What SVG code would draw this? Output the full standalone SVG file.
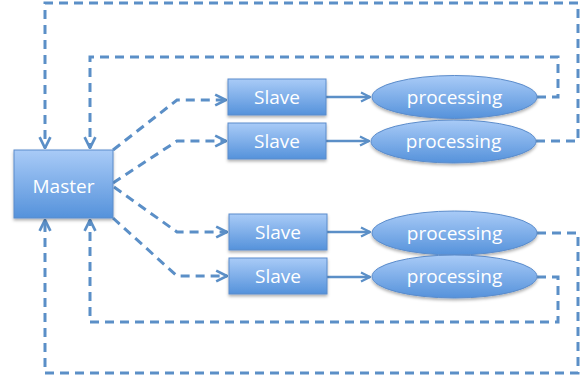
<svg xmlns="http://www.w3.org/2000/svg" width="584" height="381" viewBox="0 0 584 381">
<style>
.box{fill:url(#g);stroke:#5b8ccb;stroke-width:1;filter:url(#sh)}
.t{fill:#fff;font-family:"Open Sans","Liberation Sans",sans-serif;font-size:19px;text-anchor:middle;dominant-baseline:central}
.d{fill:none;stroke:#5b8fc7;stroke-width:3;stroke-dasharray:9,6}
.s{fill:none;stroke:#5b8fc7;stroke-width:2.5}
</style>
<defs>
<linearGradient id="g" x1="0" y1="0" x2="0" y2="1">
<stop offset="0" stop-color="#a9cbf7"/>
<stop offset="1" stop-color="#5592db"/>
</linearGradient>
<filter id="sh" x="-10%" y="-20%" width="120%" height="150%">
<feDropShadow dx="0" dy="2" stdDeviation="1.5" flood-color="#000" flood-opacity="0.3"/>
</filter>
<marker id="a" viewBox="0 0 10 10" refX="9" refY="5" markerWidth="4.5" markerHeight="4.5" orient="auto" markerUnits="strokeWidth">
<path d="M1,1 L9,5 L1,9" fill="none" stroke="#5b8fc7" stroke-width="2"/>
</marker>
</defs>
<g id="connectors">
<path class="d" d="M113,150 L177,100 L226,100" marker-end="url(#a)"/>
<path class="d" d="M113,183 L177,141 L226,141" marker-end="url(#a)"/>
<path class="d" d="M114,187 L177,232 L227,232" marker-end="url(#a)"/>
<path class="d" d="M113,218 L177,276 L227,276" marker-end="url(#a)"/>
<path class="s" d="M326,97 L370,97" marker-end="url(#a)"/>
<path class="s" d="M326,141 L369,141" marker-end="url(#a)"/>
<path class="s" d="M327,232 L370,232" marker-end="url(#a)"/>
<path class="s" d="M327,277 L370,277" marker-end="url(#a)"/>
<path class="d" d="M537,97 L558,97 L558,57 L90,57 L90,148" marker-end="url(#a)"/>
<path class="d" d="M536,141 L578,141 L578,3 L45,3 L45,148" marker-end="url(#a)"/>
<path class="d" d="M537,233 L578,233 L578,373 L45,373 L45,220" marker-end="url(#a)"/>
<path class="d" d="M537,277 L558,277 L558,322 L90,322 L90,220" marker-end="url(#a)"/>
</g>
<g id="master"><rect class="box" x="14" y="150" width="99" height="68"/><text class="t" x="63.5" y="186">Master</text></g>
<g id="slave1"><rect class="box" x="228" y="79" width="98" height="36"/><text class="t" x="277" y="97">Slave</text></g>
<g id="slave2"><rect class="box" x="228" y="123" width="98" height="36"/><text class="t" x="277" y="141">Slave</text></g>
<g id="slave3"><rect class="box" x="229" y="214" width="98" height="36"/><text class="t" x="278" y="232">Slave</text></g>
<g id="slave4"><rect class="box" x="229" y="258" width="98" height="36"/><text class="t" x="278" y="276">Slave</text></g>
<g id="proc1"><ellipse class="box" cx="454.5" cy="97" rx="82.5" ry="21.5"/><text class="t" x="454.5" y="97">processing</text></g>
<g id="proc2"><ellipse class="box" cx="453.5" cy="141.5" rx="82.5" ry="21.5"/><text class="t" x="453.5" y="141">processing</text></g>
<g id="proc3"><ellipse class="box" cx="454.5" cy="233" rx="82.5" ry="22"/><text class="t" x="454.5" y="233">processing</text></g>
<g id="proc4"><ellipse class="box" cx="454.5" cy="276.5" rx="82.5" ry="21.5"/><text class="t" x="454.5" y="276">processing</text></g>
</svg>
